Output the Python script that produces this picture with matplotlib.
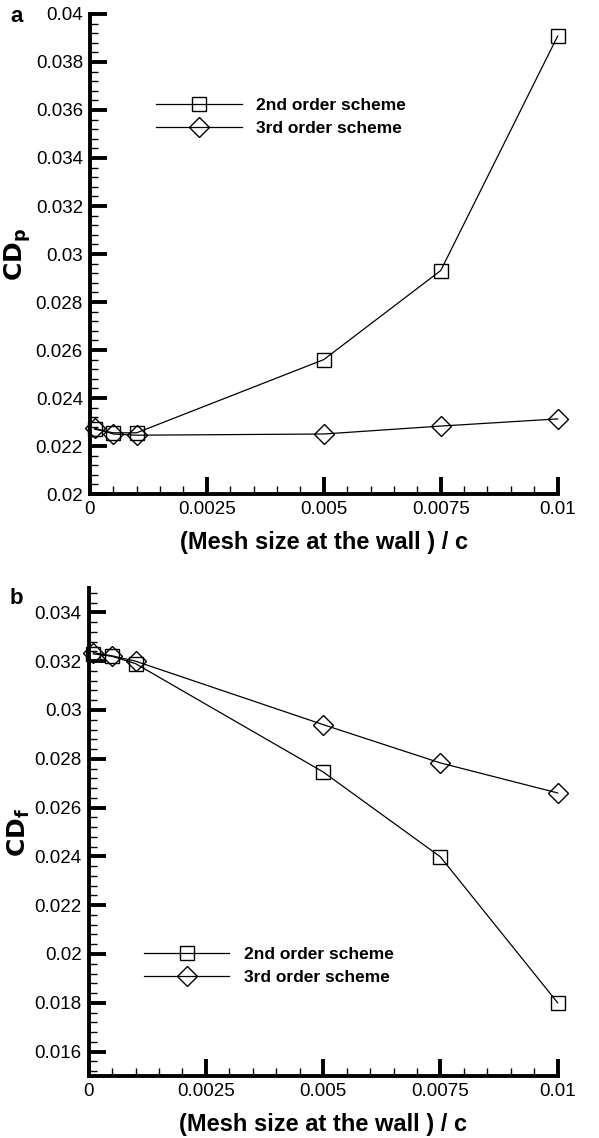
import matplotlib
matplotlib.use("Agg")
import matplotlib.pyplot as plt
from matplotlib.ticker import MultipleLocator, FuncFormatter

plt.rcParams['font.family'] = ['Liberation Sans', 'DejaVu Sans']

# Data
mesh = [0.0001, 0.0005, 0.001, 0.005, 0.0075, 0.01]
cdp_2nd = [0.02270, 0.02255, 0.02255, 0.02560, 0.02931, 0.03908]
cdp_3rd = [0.02275, 0.02250, 0.02245, 0.02250, 0.02283, 0.02313]
cdf_2nd = [0.03230, 0.03220, 0.03190, 0.02746, 0.02398, 0.01800]
cdf_3rd = [0.03235, 0.03222, 0.03200, 0.02940, 0.02783, 0.02660]
labels = ["2nd order scheme", "3rd order scheme"]
xticks = [0, 0.0025, 0.005, 0.0075, 0.01]

fig = plt.figure(figsize=(5.99, 11.38), dpi=100)
ax1 = fig.add_axes([0.150, 0.5659, 0.781, 0.4218])
ax2 = fig.add_axes([0.148, 0.0545, 0.783, 0.4288])

def fmt(v, pos):
    s = ('%.4f' % v).rstrip('0').rstrip('.')
    return s

def style(ax, ylim, ylabel):
    ax.set_xlim(0, 0.01)
    ax.set_ylim(*ylim)
    for s in ['top', 'right']:
        ax.spines[s].set_visible(False)
    for s in ['left', 'bottom']:
        ax.spines[s].set_linewidth(2.8)
    ax.set_xticks(xticks)
    ax.xaxis.set_minor_locator(MultipleLocator(0.0005))
    ax.yaxis.set_major_locator(MultipleLocator(0.002))
    ax.yaxis.set_minor_locator(MultipleLocator(0.0004))
    ax.xaxis.set_major_formatter(FuncFormatter(fmt))
    ax.yaxis.set_major_formatter(FuncFormatter(fmt))
    ax.tick_params(which='major', direction='in', length=12, width=2.8,
                   labelsize=13.5, pad=5)
    ax.tick_params(which='minor', direction='in', length=6, width=1)
    ax.set_xlabel("(Mesh size at the wall ) / c", fontsize=17,
                  fontweight='bold', labelpad=9.5)
    ax.set_ylabel(ylabel, fontsize=18, fontweight='bold', labelpad=2)

kw_s = dict(color='black', lw=0.9, marker='s', ms=10, mfc='none',
            mec='black', mew=1.0, clip_on=False)
kw_d = dict(color='black', lw=0.9, marker='D', ms=10.5, mfc='none',
            mec='black', mew=1.0, clip_on=False)

leg_kw = dict(frameon=False, handlelength=4.9, handletextpad=0.85,
              prop={'weight': 'bold', 'size': 12.5}, labelspacing=0.45)

l1, = ax1.plot(mesh, cdp_2nd, **kw_s)
l2, = ax1.plot(mesh, cdp_3rd, **kw_d)
style(ax1, (0.02, 0.04), r"$\mathbf{CD_p}$")
ax1.legend([l1, l2], labels, loc='center left', bbox_to_anchor=(0.109, 0.786),
           **leg_kw)

m1, = ax2.plot(mesh, cdf_2nd, **kw_s)
m2, = ax2.plot(mesh, cdf_3rd, **kw_d)
style(ax2, (0.015, 0.035), r"$\mathbf{CD_f}$")
ax2.legend([m1, m2], labels, loc='center left', bbox_to_anchor=(0.085, 0.225),
           **leg_kw)

fig.text(10/599, 1-17/1138, 'a', fontsize=16, fontweight='bold', va='center')
fig.text(10/599, 1-598/1138, 'b', fontsize=16, fontweight='bold', va='center')

fig.savefig('out.png', dpi=100)
